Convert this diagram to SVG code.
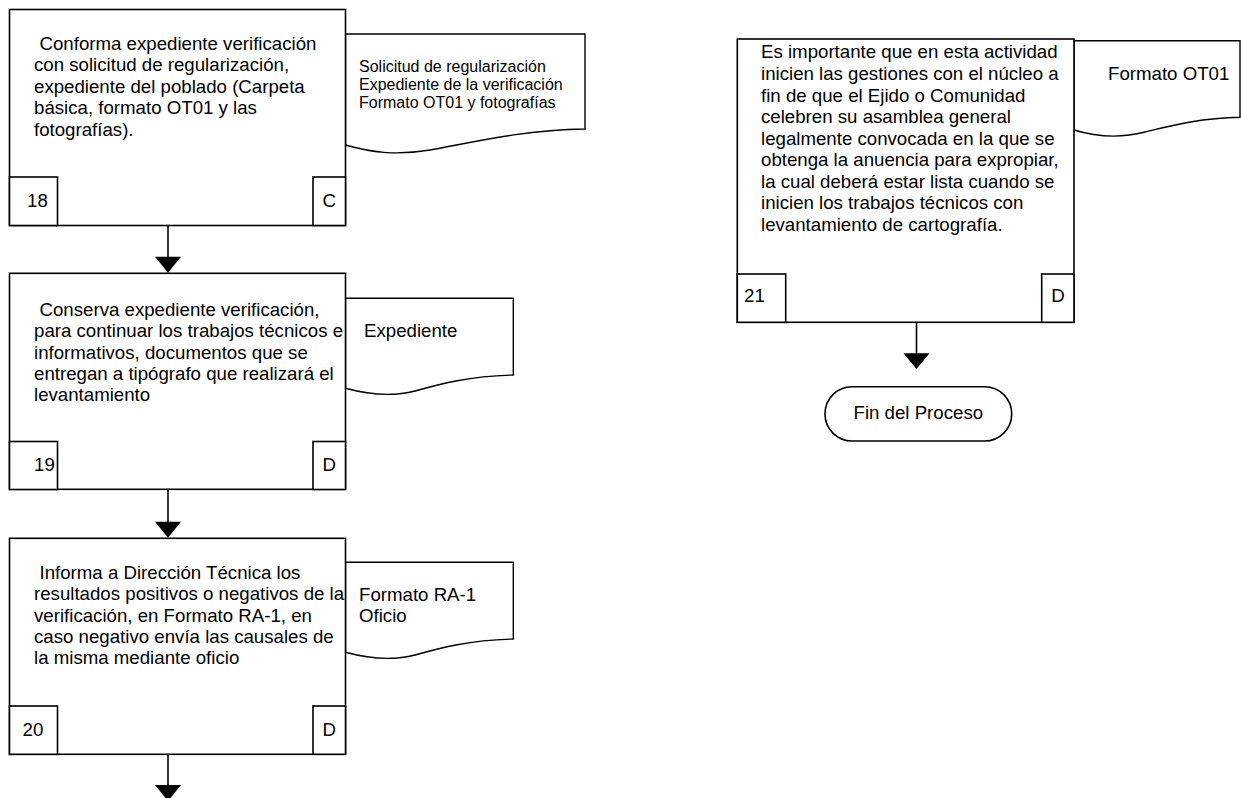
<svg xmlns="http://www.w3.org/2000/svg" width="1241" height="798" viewBox="0 0 1241 798">
<style>
.box{fill:#fff;stroke:#000;stroke-width:1.6}
.doc{fill:#fff;stroke:#000;stroke-width:1.4}
.t{font-family:"Liberation Sans",Arial,sans-serif;font-size:18.67px;fill:#000}
.s{font-family:"Liberation Sans",Arial,sans-serif;font-size:16px;fill:#000}
.ln{stroke:#000;stroke-width:1.6;fill:none}
.ah{fill:#000}
</style>
<rect width="1241" height="798" fill="#fff"/>
<g id="doc18">
<path class="doc" d="M345.5,34 H585 V129 C520,130 465,144 430,150 C395,156 370,152 345.5,145 Z"/>
<text class="s" x="359"><tspan x="359" y="71.7">Solicitud de regularización</tspan><tspan x="359" y="90">Expediente de la verificación</tspan><tspan x="359" y="108.3">Formato OT01 y fotografías</tspan></text>
</g>
<g id="node18">
<rect class="box" x="9.5" y="9.5" width="336" height="216"/>
<rect class="box" x="9.5" y="177" width="48" height="48.5"/>
<rect class="box" x="313" y="177" width="32.5" height="48.5"/>
<text class="t"><tspan x="39.5" y="49.5">Conforma expediente verificación</tspan><tspan x="34" y="71">con solicitud de regularización,</tspan><tspan x="34" y="92.5">expediente del poblado (Carpeta</tspan><tspan x="34" y="114">básica, formato OT01 y las</tspan><tspan x="34" y="135.5">fotografías).</tspan></text>
<text class="t" x="27" y="207">18</text>
<text class="t" x="329.3" y="207" text-anchor="middle">C</text>
</g>
<g id="doc19">
<path class="doc" d="M345.5,298.3 H513.3 V375 C470,376 440,384 415,391 C392,397 370,395 345.5,388.3 Z"/>
<text class="t" x="364" y="336.7">Expediente</text>
</g>
<g id="node19">
<rect class="box" x="9.5" y="273.3" width="336" height="216"/>
<rect class="box" x="9.5" y="441.5" width="48" height="48"/>
<rect class="box" x="313" y="441.5" width="32.5" height="48"/>
<text class="t"><tspan x="39.5" y="316">Conserva expediente verificación,</tspan><tspan x="34" y="337.3">para continuar los trabajos técnicos e</tspan><tspan x="34" y="358.7">informativos, documentos que se</tspan><tspan x="34" y="380">entregan a tipógrafo que realizará el</tspan><tspan x="34" y="401.3">levantamiento</tspan></text>
<text class="t" x="34" y="471">19</text>
<text class="t" x="329.3" y="471" text-anchor="middle">D</text>
</g>
<g id="doc20">
<path class="doc" d="M345.5,562.3 H513.3 V639 C470,640 440,648 415,655 C392,661 370,659 345.5,652.3 Z"/>
<text class="t"><tspan x="359" y="600.7">Formato RA-1</tspan><tspan x="359" y="622">Oficio</tspan></text>
</g>
<g id="node20">
<rect class="box" x="9.5" y="538.3" width="336" height="216"/>
<rect class="box" x="9.5" y="706" width="48" height="48.3"/>
<rect class="box" x="313" y="706" width="32.5" height="48.3"/>
<text class="t"><tspan x="39.5" y="579">Informa a Dirección Técnica los</tspan><tspan x="34" y="600.3">resultados positivos o negativos de la</tspan><tspan x="34" y="621.7">verificación, en Formato RA-1, en</tspan><tspan x="34" y="643">caso negativo envía las causales de</tspan><tspan x="34" y="664.3">la misma mediante oficio</tspan></text>
<text class="t" x="22.5" y="736">20</text>
<text class="t" x="329.3" y="736" text-anchor="middle">D</text>
</g>
<g id="doc21">
<path class="doc" d="M1074,40.7 H1240 V117.3 C1200,118 1170,126 1145,132 C1122,138 1100,138 1074,130 Z"/>
<text class="t" x="1108" y="80">Formato OT01</text>
</g>
<g id="node21">
<rect class="box" x="737.3" y="39" width="336.7" height="283.3"/>
<rect class="box" x="737.3" y="274" width="48.4" height="48.3"/>
<rect class="box" x="1041.7" y="274" width="32.3" height="48.3"/>
<text class="t"><tspan x="761" y="58.3">Es importante que en esta actividad</tspan><tspan x="761" y="80">inicien las gestiones con el núcleo a</tspan><tspan x="761" y="101.5">fin de que el Ejido o Comunidad</tspan><tspan x="761" y="123">celebren su asamblea general</tspan><tspan x="761" y="144.5">legalmente convocada en la que se</tspan><tspan x="761" y="166">obtenga la anuencia para expropiar,</tspan><tspan x="761" y="187.5">la cual deberá estar lista cuando se</tspan><tspan x="761" y="209">inicien los trabajos técnicos con</tspan><tspan x="761" y="230.5">levantamiento de cartografía.</tspan></text>
<text class="t" x="744" y="302">21</text>
<text class="t" x="1057.9" y="302" text-anchor="middle">D</text>
</g>
<g id="fin">
<rect class="box" x="825" y="386.7" width="186.7" height="54.3" rx="27" ry="27"/>
<text class="t" x="918.3" y="418.5" text-anchor="middle">Fin del Proceso</text>
</g>
<g id="connectors">
<line class="ln" x1="168" y1="225.5" x2="168" y2="258"/>
<polygon class="ah" points="155,256.7 181,256.7 168,272.8"/>
<line class="ln" x1="168" y1="489.3" x2="168" y2="523"/>
<polygon class="ah" points="155,521.7 181,521.7 168,537.8"/>
<line class="ln" x1="168" y1="754.3" x2="168" y2="786"/>
<polygon class="ah" points="155,785 181,785 168,801"/>
<line class="ln" x1="916.5" y1="322.3" x2="916.5" y2="355"/>
<polygon class="ah" points="903.5,353.3 929.5,353.3 916.5,369"/>
</g>
</svg>
